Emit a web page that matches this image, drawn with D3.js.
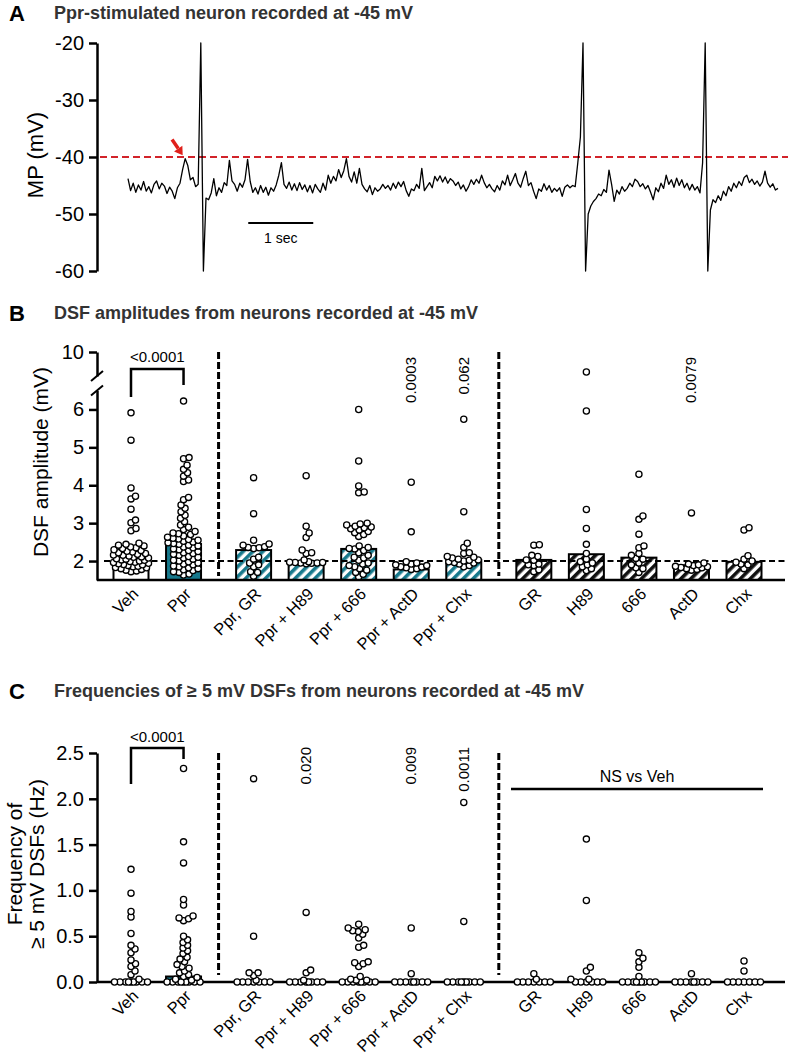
<!DOCTYPE html>
<html><head><meta charset="utf-8">
<script src="https://cdn.jsdelivr.net/npm/d3@7"></script>
<style>
body{margin:0;background:#fff}
svg{display:block}
text{font-family:"Liberation Sans",Arial,sans-serif}
</style>
</head><body>
<svg id="chart" width="788" height="1059"></svg>
<script>
// ---------------- DATA ----------------
// Panel A: membrane potential trace (mV), sampled every 0.04 s from t = 0
const traceStep = 0.04;
const traceMV = [
-43.8,-45.9,-44.6,-46.2,-44.9,-45.8,-44.3,-46.0,-45.2,-46.3,-44.8,-44.2,-45.6,-44.6,-45.1,-46.4,-45.3,-46.0,-47.3,-45.4,-44.6,-42.2,-40.3,-41.5,-44.0,
-43.6,-45.2,-44.8,-20.0,-60.0,-47.2,-47.5,-46.3,-43.8,-46.8,-45.4,-46.2,-44.5,-45.0,-40.6,-44.2,-44.8,-46.0,-44.6,-45.3,-44.0,-40.4,-44.3,-46.2,-45.4,
-46.5,-45.0,-46.2,-45.3,-46.7,-45.4,-46.0,-44.9,-43.2,-41.0,-44.8,-45.5,-44.4,-45.8,-44.7,-45.9,-44.5,-45.7,-44.9,-46.1,-45.0,-46.3,-44.8,-45.6,-46.2,
-44.6,-45.8,-43.2,-44.6,-43.4,-44.2,-42.2,-43.6,-42.4,-40.3,-43.4,-44.4,-42.6,-44.6,-42.0,-44.8,-45.6,-46.1,-45.0,-46.6,-45.4,-46.0,-45.6,-44.8,-45.5,
-45.0,-45.8,-44.6,-45.5,-44.4,-45.2,-44.3,-45.9,-46.9,-45.6,-45.9,-44.8,-45.5,-42.0,-45.9,-45.2,-44.5,-45.4,-43.4,-44.2,-43.3,-44.4,-43.5,-44.6,-43.8,
-44.2,-45.0,-44.4,-45.6,-44.9,-46.0,-45.2,-44.0,-44.8,-43.9,-44.6,-43.2,-44.5,-45.4,-44.8,-45.6,-46.1,-45.0,-45.8,-44.2,-44.9,-43.2,-45.0,-44.0,-42.9,
-44.6,-45.3,-43.8,-42.5,-45.0,-44.5,-46.0,-47.3,-45.6,-46.0,-44.7,-45.8,-45.0,-46.2,-45.5,-46.0,-45.4,-46.9,-45.3,-44.9,-45.4,-45.0,-45.2,-41.0,-36.5,
-20.0,-60.0,-50.0,-48.6,-47.8,-47.3,-46.5,-46.8,-45.7,-46.2,-42.3,-44.8,-47.8,-45.8,-46.5,-45.2,-46.0,-45.5,-44.6,-45.2,-43.9,-44.3,-45.2,-44.7,-45.6,
-45.0,-46.2,-47.5,-45.4,-46.1,-44.6,-45.5,-43.2,-44.8,-44.0,-45.3,-43.7,-45.0,-44.0,-45.4,-44.6,-45.8,-44.8,-45.8,-45.2,-46.3,-41.0,-20.0,-60.0,-49.3,
-47.5,-48.0,-46.8,-47.6,-46.0,-46.8,-45.2,-46.0,-44.6,-45.4,-44.3,-45.0,-43.6,-43.2,-44.5,-43.9,-44.8,-44.2,-45.1,-44.4,-42.5,-44.6,-45.3,-44.7,-45.8,-45.5
];
const thresholdMV = -40;
const arrowPeak = [0.88, -40.3];
const yTicksA = [-60, -50, -40, -30, -20];

// Categories (panels B and C)
const categories = ["Veh","Ppr","Ppr, GR","Ppr + H89","Ppr + 666","Ppr + ActD","Ppr + Chx","GR","H89","666","ActD","Chx"];
const categoryGroup = [0,0,1,1,1,1,1,2,2,2,2,2];

// Panel B: DSF amplitude (mV)
const ampBar = [2.00, 2.45, 2.29, 1.93, 2.32, 1.78, 2.03, 2.03, 2.18, 2.09, 1.89, 1.98];
const ampVeh = [5.91,5.19,3.93,3.71,3.64,3.37,3.08,3.01,2.86,2.80,2.47,2.44,2.42,2.40,2.37,2.35,2.33,2.30,2.28,2.26,2.24,2.22,2.20,2.18,2.16,2.15,2.13,2.11,2.10,2.08,2.06,2.05,2.03,2.02,2.00,1.99,1.97,1.96,1.94,1.93,1.91,1.90,1.88,1.86,1.85,1.83,1.82,1.80,1.78,1.76,1.74,1.72];
const ampPpr = [6.22,4.73,4.70,4.53,4.42,4.33,4.24,4.14,4.10,3.68,3.62,3.48,3.39,3.30,3.21,3.13,3.04,2.95,2.89,2.83,2.78,2.74,2.72,2.70,2.66,2.63,2.60,2.58,2.57,2.55,2.52,2.50,2.48,2.46,2.44,2.42,2.40,2.37,2.35,2.32,2.30,2.28,2.25,2.22,2.20,2.18,2.15,2.12,2.10,2.08,2.05,2.02,2.00,1.98,1.95,1.92,1.90,1.87,1.85,1.82,1.80,1.77,1.75,1.72,1.70,1.66,1.63];
const ampPprGR = [4.20,3.25,2.55,2.45,2.42,2.38,2.36,2.35,2.33,2.10,2.05,1.95,1.90,1.85,1.72,1.70,1.60];
const ampPprH89 = [4.25,2.92,2.74,2.62,2.29,2.22,2.20,2.03,1.98,1.97,1.96,1.96,1.95,1.95,1.94,1.93];
const ampPpr666 = [6.00,4.64,3.98,3.82,3.80,3.00,2.98,2.95,2.92,2.90,2.88,2.85,2.82,2.78,2.75,2.70,2.65,2.40,2.36,2.33,2.32,2.28,2.22,2.15,2.10,2.08,2.02,1.95,1.92,1.88,1.85,1.80,1.76,1.70,1.65,1.58];
const ampPprActD = [4.08,2.77,1.98,1.95,1.92,1.90,1.88,1.85,1.84,1.82,1.80,1.78];
const ampPprChx = [5.74,3.30,2.47,2.36,2.22,2.20,2.12,2.10,2.08,2.05,2.03,2.02,2.00,1.98,1.96,1.95,1.92,1.88,1.85];
const ampGR = [2.43,2.42,2.15,2.12,2.03,2.02,1.92,1.90,1.88,1.77,1.72];
const ampH89 = [7.50,5.96,3.36,2.86,2.44,2.20,2.05,1.98,1.95,1.90,1.85,1.80,1.75];
const amp666 = [4.29,3.19,3.10,2.71,2.40,2.35,2.20,2.15,2.07,2.05,1.95,1.90,1.82,1.80,1.70];
const ampActD = [3.27,1.95,1.92,1.90,1.88,1.86,1.85,1.83,1.82,1.80,1.78,1.76];
const ampChx = [2.88,2.82,2.14,2.05,2.00,1.97,1.92,1.90,1.80];
const ampLowTicks = [2, 3, 4, 5, 6];
const ampHighTicks = [10];
const ampPLabels = [{cat: 5, text: "0.0003"}, {cat: 6, text: "0.062"}, {cat: 10, text: "0.0079"}];

// Panel C: frequency of >= 5 mV DSFs (Hz)
const freqBar = [0, 0.06, 0, 0, 0, 0, 0, 0, 0, 0, 0, 0];
const freqVeh = [1.23,0.97,0.77,0.71,0.53,0.40,0.36,0.32,0.24,0.20,0.17,0.12,0.08,0.03,0,0,0,0,0,0,0,0,0];
const freqPpr = [2.33,1.53,1.30,0.90,0.84,0.72,0.70,0.69,0.67,0.50,0.46,0.43,0.40,0.37,0.34,0.31,0.27,0.25,0.22,0.19,0.17,0.15,0.12,0.10,0.08,0.06,0.05,0.03,0.02,0,0,0,0,0,0,0,0,0];
const freqPprGR = [2.22,0.50,0.10,0.10,0.07,0.02,0,0,0,0,0,0,0];
const freqPprH89 = [0.76,0.13,0.10,0.02,0,0,0,0,0,0,0,0];
const freqPpr666 = [0.63,0.59,0.57,0.56,0.55,0.52,0.48,0.40,0.38,0.22,0.21,0.20,0.17,0.06,0.03,0.02,0.02,0,0,0,0,0,0,0,0];
const freqPprActD = [0.59,0.09,0,0,0,0,0,0,0,0];
const freqPprChx = [1.96,0.66,0,0,0,0,0,0,0,0,0];
const freqGR = [0.09,0.03,0,0,0,0,0,0,0];
const freqH89 = [1.56,0.89,0.16,0.12,0.03,0.03,0,0,0,0,0,0];
const freq666 = [0.32,0.26,0.22,0.16,0.06,0,0,0,0,0,0,0,0,0];
const freqActD = [0.09,0,0,0,0,0,0,0,0];
const freqChx = [0.23,0.12,0,0,0,0,0,0,0];
const freqTicks = [0, 0.5, 1.0, 1.5, 2.0, 2.5];
const freqPLabels = [{cat: 3, text: "0.020"}, {cat: 5, text: "0.009"}, {cat: 6, text: "0.0011"}];

const ampPoints = [ampVeh, ampPpr, ampPprGR, ampPprH89, ampPpr666, ampPprActD, ampPprChx, ampGR, ampH89, amp666, ampActD, ampChx];
const freqPoints = [freqVeh, freqPpr, freqPprGR, freqPprH89, freqPpr666, freqPprActD, freqPprChx, freqGR, freqH89, freq666, freqActD, freqChx];

// ---------------- DRAWING ----------------
const svg = d3.select("#chart");
const FONT = '"Liberation Sans", Arial, sans-serif';
const teal = "#17798c";
const titleColor = "#333";
const axisX = 97;
const axisW = 2.5;

const defs = svg.append("defs");
function hatch(id, color) {
  const p = defs.append("pattern").attr("id", id).attr("patternUnits", "userSpaceOnUse")
    .attr("width", 7).attr("height", 7).attr("patternTransform", "rotate(45)");
  p.append("rect").attr("width", 7).attr("height", 7).attr("fill", "#fff");
  p.append("rect").attr("width", 3.6).attr("height", 7).attr("fill", color);
}
hatch("hatchTeal", teal);
hatch("hatchBlack", "#111");

function panelTitle(letter, text, y, letterFont) {
  svg.append("text").attr("x", 9).attr("y", y + 2).text(letter)
    .attr("font-size", 22).attr("font-weight", "bold").attr("font-family", letterFont).attr("fill", "#000");
  svg.append("text").attr("x", 54).attr("y", y).text(text)
    .attr("font-size", 18).attr("font-weight", "bold").attr("fill", titleColor);
}
panelTitle("A", "Ppr-stimulated neuron recorded at -45 mV", 19, FONT);
panelTitle("B", "DSF amplitudes from neurons recorded at -45 mV", 319, "Lato, 'Open Sans', sans-serif");
panelTitle("C", "Frequencies of \u2265 5 mV DSFs from neurons recorded at -45 mV", 697, "Lato, 'Open Sans', sans-serif");

function styleAxis(g) {
  g.attr("font-family", null).attr("font-size", null);
  g.selectAll("path,line").attr("stroke", "#000").attr("stroke-width", axisW);
  g.selectAll("text").attr("font-size", 20).attr("fill", "#000").attr("font-family", FONT);
}

// ---------- Panel A ----------
const xA = d3.scaleLinear().domain([0, 10]).range([128, 778]);
const yA = d3.scaleLinear().domain([-60, -20]).range([271, 43]);
svg.append("g").attr("transform", `translate(${axisX},0)`)
  .call(d3.axisLeft(yA).tickValues(yTicksA).tickFormat(d => String(d)).tickSize(8).tickSizeOuter(0).tickPadding(5))
  .call(styleAxis);
svg.append("text").attr("transform", `translate(43,155) rotate(-90)`).attr("text-anchor", "middle")
  .attr("font-size", 22).text("MP (mV)");

svg.append("line").attr("x1", 100).attr("x2", 788).attr("y1", yA(thresholdMV)).attr("y2", yA(thresholdMV))
  .attr("stroke", "#d2232a").attr("stroke-width", 2.2).attr("stroke-dasharray", "7,4");

const traceLine = d3.line().x((d, i) => xA(i * traceStep)).y(d => yA(d));
svg.append("path").datum(traceMV).attr("d", traceLine).attr("fill", "none")
  .attr("stroke", "#000").attr("stroke-width", 1.3).attr("stroke-linejoin", "round");

{
  const tx = xA(arrowPeak[0]) - 2.5, ty = yA(arrowPeak[1]) - 3.5;
  const ang = Math.atan2(1.25, 0.85);
  const len = 19, head = 8, hw = 5;
  const bx = tx - Math.cos(ang) * head, by = ty - Math.sin(ang) * head;
  svg.append("line").attr("x1", tx - Math.cos(ang) * len).attr("y1", ty - Math.sin(ang) * len)
    .attr("x2", bx).attr("y2", by).attr("stroke", "#e0201b").attr("stroke-width", 3.5);
  const px = -Math.sin(ang), py = Math.cos(ang);
  svg.append("path").attr("d", `M${tx},${ty}L${bx + px * hw},${by + py * hw}L${bx - px * hw},${by - py * hw}Z`).attr("fill", "#e0201b");
}
svg.append("line").attr("x1", xA(1.85)).attr("x2", xA(2.85)).attr("y1", 223).attr("y2", 223)
  .attr("stroke", "#000").attr("stroke-width", 2);
svg.append("text").attr("x", (xA(1.85) + xA(2.85)) / 2).attr("y", 243).attr("text-anchor", "middle")
  .attr("font-size", 14).text("1 sec");

// ---------- shared x layout ----------
const groupGap = 1 / 3;
const slots = categories.map((c, i) => i + groupGap * categoryGroup[i]);
const xs = d3.scaleLinear().domain([0, 11 + 2 * groupGap]).range([131, 744]);
const barW = 35;
const sepSlots = [(slots[1] + slots[2]) / 2, (slots[6] + slots[7]) / 2];

function barFill(i) {
  if (categoryGroup[i] === 0) return i === 0 ? "#fff" : teal;
  return categoryGroup[i] === 1 ? "url(#hatchTeal)" : "url(#hatchBlack)";
}

function swarm(values, cx, yFn, maxHalf, minDist) {
  const pts = values.map(v => ({ v, y: yFn(v) })).sort((a, b) => b.y - a.y);
  const placed = [];
  const cands = [0];
  for (let o = 0.5; o <= maxHalf; o += 0.5) { cands.push(o); cands.push(-o); }
  for (const p of pts) {
    let chosen = null, best = 0, bestScore = -1;
    for (const o of cands) {
      let md = Infinity;
      for (const q of placed) { const d = Math.hypot(q.dx - o, q.y - p.y); if (d < md) md = d; }
      if (md >= minDist) { chosen = o; break; }
      if (md > bestScore) { bestScore = md; best = o; }
    }
    p.dx = chosen !== null ? chosen : best;
    placed.push(p);
  }
  return placed.map(p => ({ x: cx + p.dx, y: p.y }));
}

function xLabels(yAxis) {
  const g = svg.append("g").attr("transform", `translate(0,${yAxis})`)
    .call(d3.axisBottom(xs).tickValues(slots).tickSize(0).tickSizeOuter(0).tickFormat((d, i) => categories[i]));
  g.attr("font-family", null).attr("font-size", null);
  g.select(".domain").remove();
  g.selectAll("text").attr("y", 0).attr("dy", 0).attr("text-anchor", "end")
    .attr("transform", "translate(8,15) rotate(-45)").attr("font-size", 16.5).attr("font-family", FONT).attr("fill", "#000");
  svg.append("line").attr("x1", axisX).attr("x2", 785).attr("y1", yAxis).attr("y2", yAxis)
    .attr("stroke", "#000").attr("stroke-width", axisW);
}

function drawDots(points, yFn) {
  points.forEach((vals, i) => {
    const pts = swarm(vals, xs(slots[i]), yFn, barW / 2, 5.2);
    svg.append("g").selectAll("circle").data(pts).join("circle")
      .attr("cx", d => d.x).attr("cy", d => d.y).attr("r", 3.1)
      .attr("fill", "#fff").attr("stroke", "#000").attr("stroke-width", 1.3);
  });
}

function vText(x, yTop, text) {
  svg.append("text").attr("transform", `translate(${x},${yTop}) rotate(-90)`).attr("text-anchor", "end")
    .attr("font-size", 15).text(text);
}

// ---------- Panel B ----------
const yBlow = d3.scaleLinear().domain([1.5, 6.5]).range([580, 390.5]);
const yBhigh = d3.scaleLinear().domain([7, 10]).range([376, 352]);
const yB = v => (v > 6.75 ? yBhigh(v) : yBlow(v));

svg.append("g").attr("transform", `translate(${axisX},0)`)
  .call(d3.axisLeft(yBlow).tickValues(ampLowTicks).tickFormat(d3.format("d")).tickSize(8).tickSizeOuter(0).tickPadding(5)).call(styleAxis);
svg.append("g").attr("transform", `translate(${axisX},0)`)
  .call(d3.axisLeft(yBhigh).tickValues(ampHighTicks).tickFormat(d3.format("d")).tickSize(8).tickSizeOuter(0).tickPadding(5)).call(styleAxis);
[376, 390.5].forEach(yy => {
  svg.append("line").attr("x1", axisX - 6).attr("x2", axisX + 6).attr("y1", yy + 5).attr("y2", yy - 5)
    .attr("stroke", "#000").attr("stroke-width", 2);
});
svg.append("text").attr("transform", `translate(48,462) rotate(-90)`).attr("text-anchor", "middle")
  .attr("font-size", 21).text("DSF amplitude (mV)");

svg.append("g").selectAll("rect").data(ampBar).join("rect")
  .attr("x", (d, i) => xs(slots[i]) - barW / 2).attr("width", barW)
  .attr("y", d => yB(d)).attr("height", d => yB(1.5) - yB(d))
  .attr("fill", (d, i) => barFill(i)).attr("stroke", "#000").attr("stroke-width", 2);

svg.append("line").attr("x1", 104).attr("x2", 785).attr("y1", yB(2)).attr("y2", yB(2))
  .attr("stroke", "#000").attr("stroke-width", 2).attr("stroke-dasharray", "6,3.5");
sepSlots.forEach(s => {
  svg.append("line").attr("x1", xs(s)).attr("x2", xs(s)).attr("y1", 352).attr("y2", 576)
    .attr("stroke", "#000").attr("stroke-width", 3).attr("stroke-dasharray", "7,3");
});
drawDots(ampPoints, yB);
xLabels(580);

svg.append("path").attr("d", `M${xs(slots[0])},397V369H${xs(slots[1])}V385`).attr("fill", "none")
  .attr("stroke", "#000").attr("stroke-width", 2.5);
svg.append("text").attr("x", (xs(slots[0]) + xs(slots[1])) / 2).attr("y", 362).attr("text-anchor", "middle")
  .attr("font-size", 15).text("<0.0001");
ampPLabels.forEach(p => vText(xs(slots[p.cat]) + 5, 357, p.text));

// ---------- Panel C ----------
const yC = d3.scaleLinear().domain([0, 2.5]).range([982, 753]);
svg.append("g").attr("transform", `translate(${axisX},0)`)
  .call(d3.axisLeft(yC).tickValues(freqTicks).tickFormat(d3.format(".1f")).tickSize(8).tickSizeOuter(0).tickPadding(5))
  .call(styleAxis);
svg.append("text").attr("transform", `translate(22,864) rotate(-90)`).attr("text-anchor", "middle")
  .attr("font-size", 21).text("Frequency of");
svg.append("text").attr("transform", `translate(44,864) rotate(-90)`).attr("text-anchor", "middle")
  .attr("font-size", 21).text("\u2265 5 mV DSFs (Hz)");

svg.append("g").selectAll("rect").data(freqBar).join("rect")
  .attr("x", (d, i) => xs(slots[i]) - barW / 2).attr("width", barW)
  .attr("y", d => yC(d)).attr("height", d => yC(0) - yC(d))
  .attr("fill", (d, i) => barFill(i)).attr("stroke", d => d > 0 ? "#000" : "none").attr("stroke-width", 2);
sepSlots.forEach(s => {
  svg.append("line").attr("x1", xs(s)).attr("x2", xs(s)).attr("y1", 753).attr("y2", 975)
    .attr("stroke", "#000").attr("stroke-width", 3).attr("stroke-dasharray", "7,3");
});
xLabels(982);
drawDots(freqPoints, yC);

svg.append("path").attr("d", `M${xs(slots[0])},784V748H${xs(slots[1])}V759`).attr("fill", "none")
  .attr("stroke", "#000").attr("stroke-width", 2.5);
svg.append("text").attr("x", (xs(slots[0]) + xs(slots[1])) / 2).attr("y", 742).attr("text-anchor", "middle")
  .attr("font-size", 15).text("<0.0001");
freqPLabels.forEach(p => vText(xs(slots[p.cat]) + 5, 747, p.text));

svg.append("line").attr("x1", 511).attr("x2", 763).attr("y1", 789).attr("y2", 789)
  .attr("stroke", "#000").attr("stroke-width", 2.5);
svg.append("text").attr("x", 637).attr("y", 782).attr("text-anchor", "middle")
  .attr("font-size", 16).text("NS vs Veh");
</script>
</body></html>
